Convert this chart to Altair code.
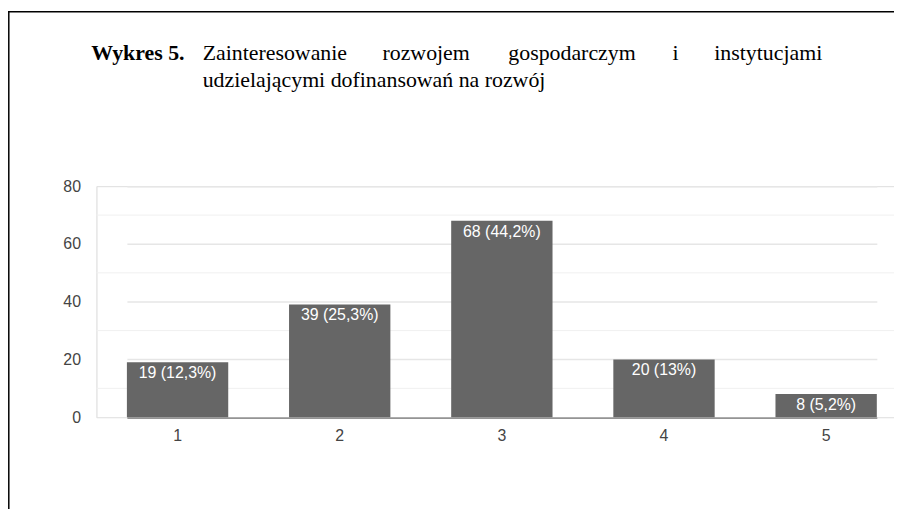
import altair as alt
import pandas as pd

# ---- data ----
categories = ["1", "2", "3", "4", "5"]
counts = [19, 39, 68, 20, 8]
labels = ["19 (12,3%)", "39 (25,3%)", "68 (44,2%)", "20 (13%)", "8 (5,2%)"]
minor_ticks = [10, 30, 50, 70]

title_bold = "Wykres 5."
title_line1_words = ["Zainteresowanie", "rozwojem", "gospodarczym", "i", "instytucjami"]
title_line2 = "udzielającymi dofinansowań na rozwój"

df = pd.DataFrame({"cat": categories, "count": counts, "label": labels})
minor_df = pd.DataFrame({"v": minor_ticks})

PLOT_W = 803
PLOT_H = 232.6
LEFT = 89
TOP = 177.7
SANS = "Arial, Liberation Sans"
yscale = alt.Scale(domain=[0, 80], nice=False)

x_enc = alt.X(
    "cat:N",
    sort=categories,
    scale=alt.Scale(range=[30.7, 785.7], paddingInner=0.375, paddingOuter=0),
    axis=alt.Axis(
        title=None, labelAngle=0, domain=False, ticks=False, grid=False,
        labelPadding=10,
    ),
)
y_enc = alt.Y(
    "count:Q",
    scale=yscale,
    axis=alt.Axis(
        title=None, values=[0, 20, 40, 60, 80],
        ticks=False, domain=True, domainColor="#e8e8e8",
        labelPadding=16,
        gridColor={"condition": {"test": "datum.value == 0", "value": "#555555"},
                   "value": "#e6e6e6"},
        gridWidth={"condition": {"test": "datum.value == 0", "value": 1},
                   "value": 1.5},
    ),
)

minor_grid = alt.Chart(minor_df).mark_rule(color="#f0f0f0", strokeWidth=1).encode(
    y=alt.Y("v:Q", scale=yscale), x=alt.value(0), x2=alt.value(PLOT_W)
)

bars = alt.Chart(df).mark_bar(color="#666666").encode(x=x_enc, y=y_enc)

bar_text = alt.Chart(df).mark_text(
    color="white", font=SANS, fontSize=16, baseline="middle", dy=11
).encode(x=alt.X("cat:N", sort=categories), y="count:Q", text="label:N")

one = pd.DataFrame({"k": [0]})
serif = "Liberation Serif"

t_bold = alt.Chart(one).mark_text(
    text=title_bold, font=serif, fontSize=22, fontWeight="bold", align="left",
    baseline="alphabetic", color="black"
).encode(x=alt.value(-5.3), y=alt.value(-127.4))

line1_x = [107, 288, 414.7, 580, 622]
t_words = [
    alt.Chart(one).mark_text(
        text=w, font=serif, fontSize=22, align="left", baseline="alphabetic", color="black"
    ).encode(x=alt.value(px), y=alt.value(-127.4))
    for w, px in zip(title_line1_words, line1_x)
]
t_line2 = alt.Chart(one).mark_text(
    text=title_line2, font=serif, fontSize=22, align="left", baseline="alphabetic", color="black"
).encode(x=alt.value(107), y=alt.value(-100))

border_left = alt.Chart(one).mark_rule(color="black", strokeWidth=1.5).encode(
    x=alt.value(-88.2), y=alt.value(-176.5), y2=alt.value(340)
)
border_top = alt.Chart(one).mark_rule(color="black", strokeWidth=1.5).encode(
    x=alt.value(-89), x2=alt.value(PLOT_W), y=alt.value(-175.7)
)

chart = alt.layer(
    minor_grid, bars, bar_text, t_bold, *t_words, t_line2, border_left, border_top
).properties(
    width=PLOT_W, height=PLOT_H, autosize="none",
    padding={"left": LEFT, "top": TOP, "right": 0, "bottom": 91},
).configure_view(stroke=None).configure(background="white").configure_axis(
    labelFont=SANS, labelFontSize=16, labelColor="#444444"
)

chart.save("out.html", embed_options={"renderer": "svg", "actions": False})
